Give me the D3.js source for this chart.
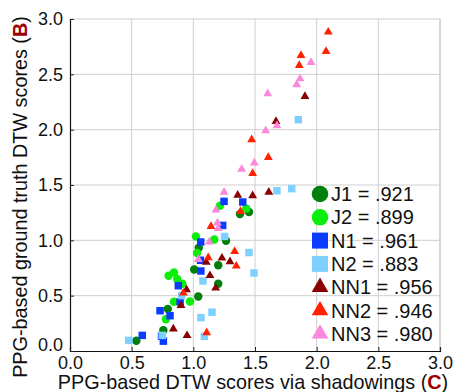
<!DOCTYPE html>
<html>
<head>
<meta charset="utf-8">
<script src="https://cdn.jsdelivr.net/npm/d3@7"></script>
<style>
  body { margin: 0; background: #fff; }
  text { font-family: "Liberation Sans", Arial, Helvetica, sans-serif; fill: #111; }
</style>
</head>
<body>
<div id="chart"></div>
<script>
// scatter of DTW scores: [x, y] pairs per group
const seriesNames = ["J1", "J2", "N1", "N2", "NN1", "NN2", "NN3"];
const seriesR = [".921", ".899", ".961", ".883", ".956", ".946", ".980"];

const J1 = [[1.378, 1.238], [1.451, 1.256], [1.265, 0.996], [1.044, 0.933], [1.202, 0.775],
  [1.007, 0.737], [1.202, 0.608], [1.040, 0.493], [0.793, 0.380], [0.757, 0.188], [0.538, 0.093]];
const J2 = [[1.216, 1.313], [1.429, 1.288], [1.170, 1.008], [1.021, 1.035], [1.030, 0.886],
  [0.799, 0.680], [0.843, 0.710], [0.870, 0.651], [0.911, 0.608], [0.973, 0.448], [0.843, 0.445], [0.778, 0.287]];
const N1 = [[1.249, 1.352], [1.401, 1.346], [1.238, 1.135], [1.060, 0.985], [1.058, 0.820],
  [1.061, 0.723], [0.878, 0.590], [0.893, 0.443], [0.730, 0.364], [0.811, 0.319],
  [0.586, 0.141], [0.742, 0.134], [0.757, 0.089]];
const N2 = [[1.678, 1.448], [1.798, 1.467], [1.851, 2.090], [1.253, 1.035], [1.451, 0.890],
  [1.492, 0.705], [1.078, 0.633], [0.906, 0.500], [1.062, 0.301], [1.151, 0.351],
  [1.089, 0.132], [0.748, 0.141], [0.477, 0.096]];
const NN1 = [[1.360, 1.408], [1.481, 1.403], [1.612, 1.435], [1.905, 2.301], [1.670, 2.075],
  [1.232, 0.840], [1.297, 0.807], [1.105, 0.802], [1.135, 0.682], [1.181, 0.569],
  [0.945, 0.554], [0.900, 0.411], [0.838, 0.200], [0.949, 0.140]];
const NN2 = [[2.094, 2.882], [2.076, 2.707], [1.873, 2.671], [1.859, 2.581], [1.473, 1.909],
  [1.608, 1.749], [1.481, 1.605], [1.382, 1.261], [1.143, 1.126], [1.121, 0.843],
  [1.335, 0.900], [1.348, 0.768], [0.919, 0.524], [1.108, 0.165]];
const NN3 = [[1.954, 2.608], [1.865, 2.460], [1.838, 2.406], [1.603, 2.325], [1.678, 2.036],
  [1.587, 1.991], [1.494, 1.699], [1.392, 1.643], [1.249, 1.435], [1.184, 1.274],
  [1.196, 1.157], [1.202, 1.108], [1.129, 0.985], [1.040, 0.828]];
const tickValues = [0, 0.5, 1, 1.5, 2, 2.5, 3];

const allSeries = [J1, J2, N1, N2, NN1, NN2, NN3];
const colors = ["#00800a", "#0bee0b", "#0a3cff", "#7dd0ff", "#8a0000", "#ff2200", "#fb88da"];
const shapes = [d3.symbolCircle, d3.symbolCircle, d3.symbolSquare, d3.symbolSquare,
  d3.symbolTriangle, d3.symbolTriangle, d3.symbolTriangle];
const markSize = [56, 56, 56, 56, 34, 34, 34];
const legendSize = [216, 216, 256, 256, 120, 120, 120];

const W = 457, H = 392;
const margin = { top: 19, right: 17, bottom: 41, left: 70 };
const width = W - margin.left - margin.right,
  height = H - margin.top - margin.bottom;

const svg = d3.select("#chart").append("svg")
  .attr("width", W)
  .attr("height", H);

const g = svg.append("g")
  .attr("transform", "translate(" + margin.left + "," + margin.top + ")");

const x = d3.scaleLinear().domain([0, 3]).range([0, width]);
const y = d3.scaleLinear().domain([0, 3]).range([height, 0]);

// grid
g.append("g").selectAll("line.v")
  .data(tickValues.slice(1))
  .enter().append("line")
  .attr("x1", d => x(d)).attr("x2", d => x(d))
  .attr("y1", 0).attr("y2", height)
  .attr("stroke", d => d === 3 ? "#d6d6d6" : "#cfcfcf")
  .attr("stroke-width", d => d === 3 ? 2 : 1);
g.append("g").selectAll("line.h")
  .data(tickValues.slice(1))
  .enter().append("line")
  .attr("x1", 0).attr("x2", width)
  .attr("y1", d => y(d)).attr("y2", d => y(d))
  .attr("stroke", "#cfcfcf")
  .attr("stroke-width", 1);

// axes
const xAxis = g.append("g")
  .attr("transform", "translate(0," + height + ")")
  .call(d3.axisBottom(x).tickValues(tickValues).tickSize(-4).tickPadding(5)
    .tickFormat(d3.format(".1f")));
const yAxis = g.append("g")
  .call(d3.axisLeft(y).tickValues(tickValues).tickSize(-4).tickPadding(7)
    .tickFormat(d3.format(".1f")));

[xAxis, yAxis].forEach(a => {
  a.select(".domain").attr("stroke", "#111").attr("stroke-width", 1.2);
  a.selectAll(".tick line").attr("stroke", "#222");
  a.selectAll(".tick text").attr("font-size", 18).attr("fill", "#111")
    .style("font-family", '"Liberation Sans", Arial, sans-serif');
});
yAxis.selectAll(".tick text").filter(d => d === 0).attr("dy", "-0.05em");

// points
allSeries.forEach((data, i) => {
  g.append("g").selectAll("path")
    .data(data)
    .enter().append("path")
    .attr("transform", d => "translate(" + x(d[0]) + "," + y(d[1]) + ")")
    .attr("d", d3.symbol().type(shapes[i]).size(markSize[i]))
    .attr("fill", colors[i]);
});

// legend
const leg = g.append("g").attr("transform", "translate(" + (320 - margin.left) + "," + (194 - margin.top) + ")");
seriesNames.forEach((name, i) => {
  const row = leg.append("g").attr("transform", "translate(0," + (i * 23.3) + ")");
  row.append("path")
    .attr("d", d3.symbol().type(shapes[i]).size(legendSize[i]))
    .attr("fill", colors[i]);
  row.append("text")
    .attr("x", 11)
    .attr("y", 7)
    .attr("font-size", 20)
    .text(name + " = " + seriesR[i]);
});

// axis titles
const xt = svg.append("text")
  .attr("x", margin.left + width / 2 - 2)
  .attr("y", 389)
  .attr("text-anchor", "middle")
  .attr("font-size", 19.8);
xt.append("tspan").text("PPG-based DTW scores via shadowings (");
xt.append("tspan").attr("font-weight", "bold").style("fill", "#9b0000").text("C");
xt.append("tspan").text(")");

const yt = svg.append("text")
  .attr("transform", "translate(27," + (margin.top + height / 2 + 12) + ") rotate(-90)")
  .attr("text-anchor", "middle")
  .attr("font-size", 19.8);
yt.append("tspan").text("PPG-based ground truth DTW scores (");
yt.append("tspan").attr("font-weight", "bold").style("fill", "#9b0000").text("B");
yt.append("tspan").text(")");
</script>
</body>
</html>
